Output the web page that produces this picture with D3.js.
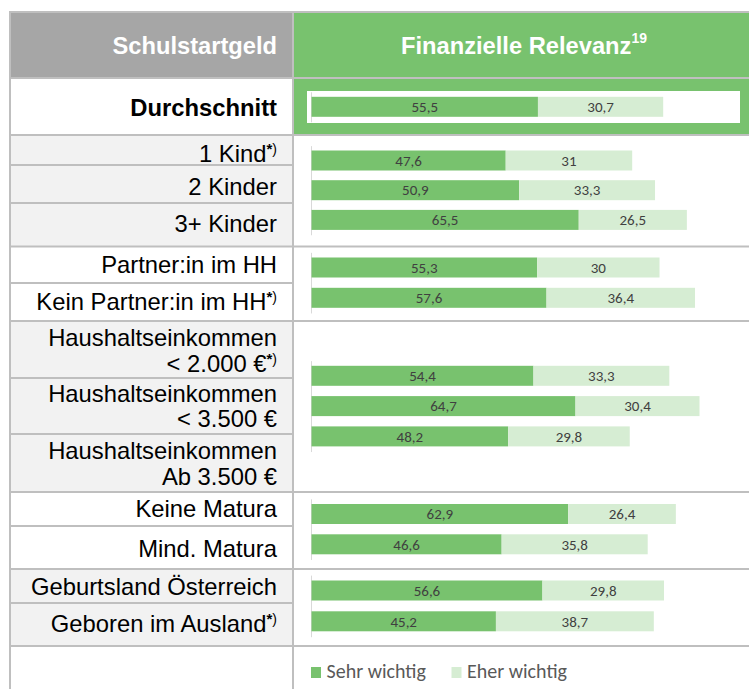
<!DOCTYPE html>
<html><head><meta charset="utf-8">
<script src="https://cdn.jsdelivr.net/npm/d3@7"></script>
<style>html,body{margin:0;padding:0;background:#fff;}svg{display:block;}</style>
</head><body>
<svg id="chart" width="749" height="689"></svg>
<script>
// ---------- data ----------
const categories = ["Durchschnitt","1 Kind","2 Kinder","3+ Kinder","Partner:in im HH","Kein Partner:in im HH",
  "Haushaltseinkommen < 2.000 €","Haushaltseinkommen < 3.500 €","Haushaltseinkommen Ab 3.500 €",
  "Keine Matura","Mind. Matura","Geburtsland Österreich","Geboren im Ausland"];
const labelLines = [["Durchschnitt"],["1 Kind"],["2 Kinder"],["3+ Kinder"],["Partner:in im HH"],["Kein Partner:in im HH"],
  ["Haushaltseinkommen","< 2.000 €"],["Haushaltseinkommen","< 3.500 €"],["Haushaltseinkommen","Ab 3.500 €"],
  ["Keine Matura"],["Mind. Matura"],["Geburtsland Österreich"],["Geboren im Ausland"]];
const footnote = [false,true,false,false,false,true,true,false,false,false,false,false,true];
const groupOf = [0,1,1,1,2,2,3,3,3,4,4,5,5];
const sehrWichtig = [55.5,47.6,50.9,65.5,55.3,57.6,54.4,64.7,48.2,62.9,46.6,56.6,45.2];
const eherWichtig = [30.7,31,33.3,26.5,30,36.4,33.3,30.4,29.8,26.4,35.8,29.8,38.7];
const seriesNames = ["Sehr wichtig","Eher wichtig"];
const headerLeft = "Schulstartgeld";
const headerRight = "Finanzielle Relevanz";
const headerSup = "19";

// ---------- layout / style ----------
const W = 749, H = 689;
const xL = 10, xDiv = 293, xRight = 749, labelX = 277;
const headTop = 12, headBot = 78;
const rowLayout = [
  {top:78,bottom:135,base:[115.5]},
  {top:135,bottom:165,base:[161.5]},
  {top:165,bottom:203,base:[194.5]},
  {top:203,bottom:246.5,base:[231.5]},
  {top:246.5,bottom:283,base:[273]},
  {top:283,bottom:321,base:[310]},
  {top:321,bottom:378,base:[345.5,371.5]},
  {top:378,bottom:434,base:[401.5,427]},
  {top:434,bottom:492,base:[458.5,485]},
  {top:492,bottom:526,base:[516.5]},
  {top:526,bottom:569,base:[556.5]},
  {top:569,bottom:603,base:[595]},
  {top:603,bottom:646,base:[632]}
];
const groupBars = [{c0:106.8,step:30},{c0:160.5,step:29.7},{c0:267.5,step:30.3},{c0:375.8,step:30.3},{c0:514,step:30.3},{c0:590.5,step:30.8}];
const groupShade = [false,true,false,true,false,true];
const C = {green:"#78c26e", light:"#d6edd3", head:"#a6a6a6", shade:"#f2f2f2", border:"#bfbfbf", axis:"#d9d9d9", val:"#404040", leg:"#595959"};
const arial = "Arial, 'Liberation Sans', Helvetica, sans-serif";
const calibri = "Carlito, Calibri, Lato, sans-serif";

const svg = d3.select("#chart");
const x = d3.scaleLinear().domain([0,100]).range([311.5,719.5]);

// header cells
svg.append("rect").attr("x",xL).attr("y",headTop).attr("width",xDiv-xL).attr("height",headBot-headTop).attr("fill",C.head);
svg.append("rect").attr("x",xDiv).attr("y",headTop).attr("width",xRight-xDiv).attr("height",headBot-headTop).attr("fill",C.green);
svg.append("text").attr("x",labelX).attr("y",53.5).attr("text-anchor","end").attr("font-family",arial)
  .attr("font-weight","bold").attr("font-size",23.7).attr("fill","#fff").text(headerLeft);
const ht = svg.append("text").attr("x",524).attr("y",54.3).attr("text-anchor","middle").attr("font-family",arial)
  .attr("font-weight","bold").attr("font-size",23.7).attr("fill","#fff");
ht.append("tspan").text(headerRight);
ht.append("tspan").attr("dy",-11).attr("font-size",14).text(headerSup);

// left-column shading per group
categories.forEach((c,i)=>{
  const r = rowLayout[i];
  if (groupShade[groupOf[i]]) {
    svg.append("rect").attr("x",xL).attr("y",r.top).attr("width",xDiv-xL).attr("height",r.bottom-r.top).attr("fill",C.shade);
  }
});
// Durchschnitt right cell: green frame with white inner box
svg.append("rect").attr("x",xDiv).attr("y",rowLayout[0].top).attr("width",xRight-xDiv).attr("height",rowLayout[0].bottom-rowLayout[0].top).attr("fill",C.green);
svg.append("rect").attr("x",307).attr("y",91).attr("width",433).attr("height",32).attr("fill","#fff");

// borders
const gLines = svg.append("g").attr("stroke",C.border).attr("stroke-width",2);
categories.forEach((c,i)=>{
  const r = rowLayout[i];
  const newGroup = i===categories.length-1 || groupOf[i+1]!==groupOf[i];
  gLines.append("line").attr("x1",xL-1).attr("x2",newGroup?xRight:xDiv).attr("y1",r.bottom).attr("y2",r.bottom);
});
[headTop, headBot].forEach(y=>gLines.append("line").attr("x1",xL-1).attr("x2",xRight).attr("y1",y).attr("y2",y));
gLines.append("line").attr("x1",xL).attr("x2",xL).attr("y1",headTop).attr("y2",H);
gLines.append("line").attr("x1",xDiv).attr("x2",xDiv).attr("y1",headTop).attr("y2",H);

// row labels
categories.forEach((c,i)=>{
  const r = rowLayout[i];
  labelLines[i].forEach((ln,j)=>{
    const t = svg.append("text").attr("x",labelX).attr("y",r.base[j]).attr("text-anchor","end")
      .attr("font-family",arial).attr("font-size",23.8).attr("fill","#000")
      .attr("font-weight", i===0?"bold":"normal");
    t.append("tspan").text(ln);
    if (footnote[i] && j===labelLines[i].length-1) {
      t.append("tspan").attr("dy",-8).attr("font-size",15).attr("font-weight","bold").text("*");
      t.append("tspan").attr("font-size",14).text(")");
    }
  });
});

// bars per group
d3.range(groupBars.length).forEach(g=>{
  const idx = categories.map((c,i)=>i).filter(i=>groupOf[i]===g);
  const gb = groupBars[g];
  const n = idx.length;
  const p = 1 - 20/gb.step;
  const y = d3.scaleBand().domain(idx.map(i=>categories[i]))
    .range([gb.c0 - gb.step/2, gb.c0 - gb.step/2 + n*gb.step]).paddingInner(p).paddingOuter(p/2);
  const gg = svg.append("g");
  gg.append("g").attr("transform",`translate(${x(0)-0.5},0)`)
    .call(d3.axisLeft(y).tickSize(0).tickFormat(""))
    .call(a=>a.select(".domain").attr("stroke",C.axis).attr("stroke-width",1));
  idx.forEach(i=>{
    const y0 = y(categories[i]), bw = y.bandwidth();
    const segs = [[0,sehrWichtig[i],C.green],[sehrWichtig[i],sehrWichtig[i]+eherWichtig[i],C.light]];
    const vals = [sehrWichtig[i], eherWichtig[i]];
    segs.forEach((s,k)=>{
      gg.append("rect").attr("x",x(s[0])).attr("y",y0).attr("width",x(s[1])-x(s[0])).attr("height",bw).attr("fill",s[2]);
      const cx = (x(s[0])+x(s[1]))/2, cy = y0+bw/2+5.2;
      gg.append("text").attr("x",cx).attr("y",cy).attr("text-anchor","middle")
        .attr("font-family",calibri).attr("font-size",15).attr("fill",C.val)
        .text(String(vals[k]).replace(".",","));
    });
  });
});

// legend
const legX = [311, 451.5];
seriesNames.forEach((s,k)=>{
  svg.append("rect").attr("x",legX[k]).attr("y",667).attr("width",10).attr("height",11).attr("fill",[C.green,C.light][k]);
  svg.append("text").attr("x",legX[k]+15.5).attr("y",678).attr("font-family",calibri).attr("font-size",20)
    .attr("fill",C.leg).text(s);
});
</script>
</body></html>
